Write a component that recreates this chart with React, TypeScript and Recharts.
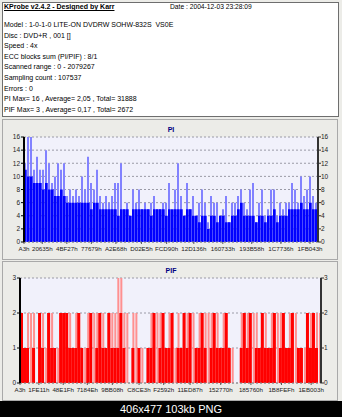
import React from 'react'
import { BarChart, Bar, XAxis, YAxis, CartesianGrid } from 'recharts'

// PI per sampling bin: solid level and peak spikes
const piBase = [
  11, 10, 10, 9, 9, 9, 8, 9, 8, 8,
  7, 7, 8, 7, 6, 6, 6, 6, 6, 6,
  6, 6, 5, 6, 6, 5, 5, 5, 5, 5,
  5, 4, 5, 5, 5, 4, 5, 5, 5, 5,
  5, 5, 4, 5, 5, 5, 5, 4, 5, 5,
  5, 5, 5, 4, 5, 5, 4, 4, 3, 4,
  4, 2, 4, 4, 3, 4, 4, 3, 3, 4,
  4, 5, 6, 4, 4, 4, 4, 3, 4, 4,
  3, 4, 4, 5, 3, 4, 4, 4, 5, 5,
  5, 5, 6, 5, 5, 6, 5, 5,
]
const piPeak = [
  12, 16, 16, 11, 13, 11, 11, 14, 12, 9,
  10, 12, 11, 12, 7, 8, 7, 8, 7, 10,
  8, 13, 9, 8, 11, 7, 6, 7, 6, 7,
  9, 9, 12, 5, 6, 4, 8, 6, 8, 5,
  6, 5, 6, 7, 5, 5, 6, 6, 9, 4,
  8, 12, 7, 4, 9, 5, 7, 4, 6, 8,
  6, 3, 7, 6, 6, 4, 5, 7, 3, 6,
  6, 7, 8, 6, 5, 8, 9, 3, 6, 8,
  4, 5, 8, 8, 4, 6, 5, 6, 6, 9,
  8, 6, 10, 7, 8, 10, 7, 6,
]
const piTickLabels = ['A3h', '20635h', '4BF27h', '77679h', 'A2E68h', 'D02E5h', 'FCD90h', '12D136h', '160733h', '193B58h', '1C7736h', '1FB043h']
const piYTicks = [0, 2, 4, 6, 8, 10, 12, 14, 16]

// PIF per sampling bin: solid red part and total height (pale red above)
const pifSolid = [
  2, 1, 1, 0, 1, 0, 2, 1, 0, 2,
  1, 1, 0, 2, 2, 2, 1, 1, 1, 2,
  1, 0, 1, 2, 0, 1, 2, 1, 1, 2,
  1, 1, 1, 2, 1, 0, 0, 1, 0, 1,
  0, 0, 1, 1, 2, 0, 1, 2, 1, 1,
  2, 0, 1, 1, 2, 1, 2, 0, 1, 1,
  2, 1, 0, 1, 2, 1, 1, 1, 2, 1,
  0, 0, 0, 1, 2, 1, 2, 0, 1, 1,
  2, 1, 1, 1, 2, 0, 1, 2, 1, 1,
  2, 0, 1, 1, 0, 2, 1, 2, 1, 0,
]
const pifTop = [
  2, 1, 2, 2, 2, 0, 2, 2, 1, 2,
  2, 1, 1, 2, 2, 2, 2, 1, 2, 2,
  1, 1, 2, 2, 2, 2, 2, 2, 1, 2,
  2, 2, 3, 3, 2, 2, 0, 2, 2, 1,
  1, 0, 1, 2, 2, 2, 2, 2, 1, 2,
  2, 1, 2, 1, 2, 2, 2, 2, 1, 2,
  2, 2, 2, 2, 2, 2, 1, 2, 2, 1,
  1, 0, 0, 2, 2, 2, 2, 2, 2, 1,
  2, 2, 1, 2, 2, 2, 2, 2, 1, 2,
  2, 2, 1, 1, 1, 2, 2, 2, 2, 2,
]
const pifTickLabels = ['A3h', '1FE11h', '48E1Fh', '7184Eh', '9BB08h', 'C8CE3h', 'F2592h', '11ED87h', '152770h', '185760h', '1B8FEFh', '1EB003h']
const pifYTicks = [0, 1, 2, 3]

const infoTitle = 'KProbe v2.4.2 - Designed by Karr'
const infoDate = 'Date : 2004-12-03 23:28:09'
const infoLines = [
  'Model : 1-0-1-0 LITE-ON DVDRW SOHW-832S  VS0E',
  'Disc : DVD+R , 001 []',
  'Speed : 4x',
  'ECC blocks sum (PI/PIF) : 8/1',
  'Scanned range : 0 - 2079267',
  'Sampling count : 107537',
  'Errors : 0',
  'PI Max= 16 , Average= 2,05 , Total= 31888',
  'PIF Max= 3 , Average= 0,17 , Total= 2672',
]

const PI_AXIS_MAX = 2134800
const PIF_AXIS_MAX = 2079267

const FONT = '"Liberation Sans", Arial, sans-serif'
const NARROW = '"Liberation Sans Narrow", "Liberation Sans", Arial, sans-serif'
const tickStyle = { fontSize: 6.5, fill: '#222', fontFamily: FONT }
const xTickStyle = { fontSize: 6.2, fill: '#222', fontFamily: NARROW }
const hexVal = (s: string) => parseInt(s.replace('h', ''), 16)

function PiChart() {
  const step = PI_AXIS_MAX / piBase.length
  const data = piBase.map((b, i) => ({ lba: (i + 0.5) * step, base: b, peak: piPeak[i] }))
  const tickVals = piTickLabels.map(hexVal)
  return (
    <BarChart width={342} height={140} data={data} margin={{ top: 18, right: 4, bottom: 5, left: 4 }} barGap={0}>
      <CartesianGrid xAxisId="lba" yAxisId="l" vertical={false} stroke="#9a9aa6" strokeDasharray="2 2" fill="#f1f1fb" />
      <XAxis
        xAxisId="lba" orientation="bottom" dataKey="lba" type="number" domain={[0, PI_AXIS_MAX]} allowDataOverflow
        ticks={tickVals} interval={0} height={12}
        tickFormatter={(v: number) => piTickLabels[tickVals.indexOf(v)] ?? ''}
        tick={xTickStyle} tickSize={2} tickMargin={3}
        axisLine={{ stroke: '#888', strokeDasharray: '2 2' }} tickLine={{ stroke: '#555' }}
      />
      <XAxis xAxisId="b" orientation="bottom" dataKey="lba" type="number" domain={[0, PI_AXIS_MAX]} allowDataOverflow hide height={0} />
      <YAxis
        yAxisId="l" domain={[0, 16]} ticks={piYTicks} width={20} interval={0}
        tick={tickStyle} tickSize={3} tickMargin={1}
        axisLine={{ stroke: '#000', strokeWidth: 2 }} tickLine={{ stroke: '#000' }}
      />
      <YAxis
        yAxisId="r" orientation="right" domain={[0, 16]} ticks={piYTicks} width={20} interval={0}
        tick={tickStyle} tickSize={3} tickMargin={0}
        axisLine={{ stroke: '#333', strokeWidth: 2 }} tickLine={{ stroke: '#333' }}
      />
      <Bar xAxisId="b" yAxisId="r" dataKey="peak" fill="#8282ff" barSize={2} isAnimationActive={false} />
      <Bar xAxisId="lba" yAxisId="l" dataKey="base" fill="#0000ff" barSize={3} isAnimationActive={false} />
    </BarChart>
  )
}

function PifChart() {
  const step = PIF_AXIS_MAX / pifTop.length
  const data = pifTop.map((t, i) => ({ lba: (i + 0.5) * step, solid: Math.min(pifSolid[i], t), top: t }))
  const tickVals = pifTickLabels.map(hexVal)
  return (
    <BarChart width={342} height={140} data={data} margin={{ top: 17, right: 4, bottom: 6, left: 4 }} barGap={0}>
      <CartesianGrid xAxisId="lba" yAxisId="l" vertical={false} stroke="#9a9aa6" strokeDasharray="2 2" fill="#f1f1fb" />
      <XAxis
        xAxisId="lba" orientation="bottom" dataKey="lba" type="number" domain={[0, PIF_AXIS_MAX]} allowDataOverflow
        ticks={tickVals} interval={0} height={12}
        tickFormatter={(v: number) => pifTickLabels[tickVals.indexOf(v)] ?? ''}
        tick={xTickStyle} tickSize={2} tickMargin={3}
        axisLine={{ stroke: '#888', strokeDasharray: '2 2' }} tickLine={{ stroke: '#555' }}
      />
      <XAxis xAxisId="b" orientation="bottom" dataKey="lba" type="number" domain={[0, PIF_AXIS_MAX]} allowDataOverflow hide height={0} />
      <YAxis
        yAxisId="l" domain={[0, 3]} ticks={pifYTicks} width={16} interval={0}
        tick={tickStyle} tickSize={3} tickMargin={1}
        axisLine={{ stroke: '#000', strokeWidth: 2 }} tickLine={{ stroke: '#000' }}
      />
      <YAxis
        yAxisId="r" orientation="right" domain={[0, 3]} ticks={pifYTicks} width={17} interval={0}
        tick={tickStyle} tickSize={3} tickMargin={0}
        axisLine={{ stroke: '#333', strokeWidth: 2 }} tickLine={{ stroke: '#333' }}
      />
      <Bar xAxisId="b" yAxisId="r" dataKey="top" fill="#ff9090" barSize={2} isAnimationActive={false} />
      <Bar xAxisId="lba" yAxisId="l" dataKey="solid" fill="#ff0000" barSize={3} isAnimationActive={false} />
    </BarChart>
  )
}

const panel = (top: number, height: number): React.CSSProperties => ({
  position: 'absolute', left: 2, top, width: 336, height, border: '1px solid #a9a9a9', boxSizing: 'border-box',
})

export default function App() {
  return (
    <div style={{ position: 'fixed', left: 0, top: 0, width: 342, height: 417, background: '#ecece8', overflow: 'hidden', fontFamily: FONT }}>
      <div style={{ position: 'absolute', left: 2, top: 2, width: 337, height: 115, background: '#fff', border: '1px solid #6e6e6e', boxSizing: 'border-box' }} />
      <div style={{ position: 'absolute', left: 4, top: 2, fontSize: 7, fontWeight: 'bold', textDecoration: 'underline', lineHeight: '10px', color: '#000' }}>{infoTitle}</div>
      <div style={{ position: 'absolute', left: 170, top: 2, fontSize: 6.7, lineHeight: '10px', color: '#000' }}>{infoDate}</div>
      {infoLines.map((t, k) => (
        <div key={k} style={{ position: 'absolute', left: 4, top: 20 + k * 10.6, fontSize: 7, lineHeight: '10px', color: '#000', whiteSpace: 'pre' }}>{t}</div>
      ))}

      <div style={panel(119, 141)} />
      <div style={{ position: 'absolute', left: 0, top: 125, width: 342, textAlign: 'center', fontSize: 7, fontWeight: 'bold', color: '#000080', lineHeight: '10px' }}>PI</div>
      <div style={{ position: 'absolute', left: 0, top: 119 }}><PiChart /></div>

      <div style={panel(261, 140)} />
      <div style={{ position: 'absolute', left: 0, top: 266, width: 342, textAlign: 'center', fontSize: 7, fontWeight: 'bold', color: '#000080', lineHeight: '10px' }}>PIF</div>
      <div style={{ position: 'absolute', left: 0, top: 261 }}><PifChart /></div>

      <div style={{ position: 'absolute', left: 0, top: 401, width: 342, height: 16, background: '#000', color: '#fff', fontSize: 11, lineHeight: '16px', textAlign: 'center' }}>406x477 103kb PNG</div>
    </div>
  )
}
